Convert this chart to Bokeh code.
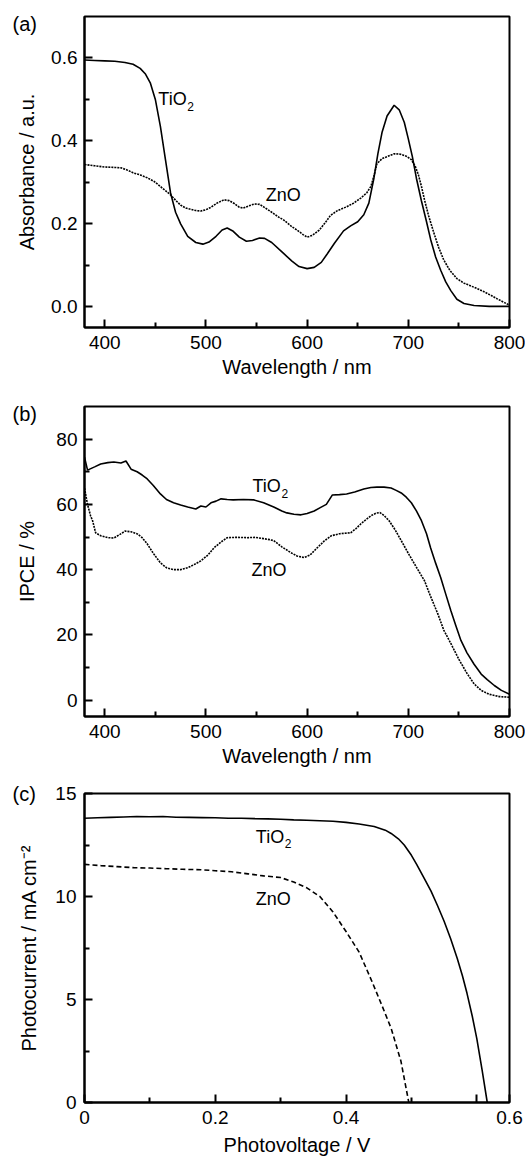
from bokeh.plotting import figure
from bokeh.layouts import column
from bokeh.models import Range1d, FixedTicker, Label, PrintfTickFormatter
from bokeh.embed import file_html
from bokeh.resources import INLINE

FONT = "Liberation Sans"

# ---------------- data: (a) absorbance ----------------
abs_tio2_wl = [380, 390, 400, 410, 420, 428, 435, 440, 445, 450, 455, 460, 465, 470, 475, 482, 490, 497,
               503, 510, 516, 521, 527, 533, 540, 546, 553, 558, 565, 577, 585, 592, 600, 607, 614, 620,
               627, 636, 643, 650, 656, 661, 666, 670, 674, 679, 686, 691, 696, 700, 704, 708, 713, 718,
               722, 727, 732, 737, 742, 748, 755, 765, 780, 800]
abs_tio2 = [0.595, 0.594, 0.593, 0.592, 0.589, 0.585, 0.575, 0.562, 0.540, 0.500, 0.435, 0.355, 0.275,
            0.228, 0.200, 0.170, 0.155, 0.151, 0.156, 0.170, 0.185, 0.190, 0.182, 0.168, 0.158, 0.160,
            0.166, 0.165, 0.155, 0.128, 0.110, 0.097, 0.092, 0.095, 0.107, 0.128, 0.153, 0.183, 0.195,
            0.205, 0.222, 0.250, 0.310, 0.370, 0.420, 0.460, 0.486, 0.475, 0.445, 0.405, 0.362, 0.310,
            0.255, 0.205, 0.163, 0.120, 0.088, 0.060, 0.039, 0.018, 0.008, 0.003, 0.001, 0.001]

abs_zno_wl = [380, 390, 400, 410, 416, 422, 428, 435, 442, 449, 455, 460, 465, 470, 475, 480, 485, 490,
              495, 500, 505, 511, 518, 523, 528, 533, 537, 542, 548, 553, 557, 565, 572, 577, 585, 590,
              596, 600, 605, 612, 618, 623, 630, 639, 646, 653, 659, 663, 666, 669, 674, 679, 686, 692,
              698, 703, 707, 710, 713, 716, 720, 725, 730, 735, 741, 748, 755, 762, 768, 775, 782, 788,
              795, 800]
abs_zno = [0.343, 0.340, 0.337, 0.336, 0.335, 0.330, 0.323, 0.318, 0.311, 0.302, 0.290, 0.280, 0.270,
           0.257, 0.245, 0.238, 0.235, 0.232, 0.231, 0.234, 0.240, 0.250, 0.258, 0.256, 0.249, 0.240,
           0.238, 0.243, 0.248, 0.247, 0.241, 0.228, 0.216, 0.209, 0.193, 0.185, 0.174, 0.168, 0.172,
           0.185, 0.203, 0.220, 0.232, 0.241, 0.250, 0.262, 0.275, 0.290, 0.315, 0.345, 0.357, 0.362,
           0.369, 0.368, 0.363, 0.355, 0.338, 0.318, 0.290, 0.258, 0.220, 0.180, 0.143, 0.113, 0.088,
           0.068, 0.057, 0.050, 0.044, 0.036, 0.027, 0.019, 0.010, 0.004]

# ---------------- data: (b) IPCE ----------------
ipce_tio2_wl = [380, 383, 390, 396, 403, 409, 416, 421, 426, 432, 437, 442, 448, 455, 461, 468, 475, 482,
                490, 495, 500, 505, 510, 515, 521, 527, 537, 547, 557, 567, 575, 580, 587, 594, 600, 607,
                613, 619, 625, 632, 639, 647, 656, 663, 669, 676, 683, 688, 693, 698, 703, 708, 713, 718,
                722, 727, 732, 737, 742, 747, 752, 758, 765, 772, 778, 785, 792, 800]
ipce_tio2 = [74.5, 70.5, 71.5, 72.4, 72.8, 73.0, 72.7, 73.3, 70.8, 70.0, 69.0, 67.8, 65.8, 63.2, 61.5,
             60.5, 59.8, 59.2, 58.6, 59.5, 59.2, 60.5, 61.0, 61.7, 61.5, 61.4, 61.5, 61.4, 60.5, 59.2,
             58.0, 57.4, 57.0, 56.8, 57.2, 58.0, 59.0, 60.0, 62.9, 63.0, 63.2, 63.8, 64.7, 65.2, 65.3,
             65.3, 65.0, 64.3, 63.5, 62.2, 60.5, 58.0, 55.0, 51.0, 46.7, 42.0, 37.6, 32.5, 27.5, 22.8,
             18.3, 14.5, 11.0, 8.0, 6.3, 4.5, 3.0, 1.8]

ipce_zno_wl = [380, 383, 386, 388, 391, 396, 403, 409, 415, 420, 426, 432, 437, 442, 448, 455, 461, 468,
               475, 482, 488, 495, 502, 508, 515, 521, 531, 541, 549, 557, 563, 567, 575, 584, 590, 597,
               603, 610, 617, 624, 632, 643, 648, 653, 658, 663, 668, 672, 676, 681, 687, 693, 700, 706,
               711, 716, 722, 729, 735, 742, 750, 758, 765, 772, 780, 790, 800]
ipce_zno = [65.0, 60.0, 56.5, 55.0, 51.3, 50.4, 49.8, 49.7, 50.8, 51.8, 51.6, 51.0, 49.8, 47.9, 45.0,
            42.1, 40.6, 40.0, 40.0, 40.6, 41.5, 42.7, 44.5, 46.7, 48.5, 49.8, 49.9, 49.8, 49.9, 49.5,
            49.2, 48.9, 47.0, 45.2, 44.2, 43.7, 44.5, 46.7, 48.8, 50.4, 51.0, 51.3, 52.5, 54.0, 55.3,
            56.5, 57.3, 57.5, 56.6, 55.0, 52.2, 48.9, 45.0, 41.8, 39.2, 36.6, 31.8, 26.6, 21.5, 17.4,
            12.5, 8.2, 5.0, 3.0, 1.8, 1.1, 0.9]

# ---------------- data: (c) J-V ----------------
jv_tio2_v = [0.000, 0.020, 0.040, 0.060, 0.080, 0.100, 0.120, 0.140, 0.160, 0.180, 0.200, 0.220, 0.240,
             0.260, 0.280, 0.300, 0.320, 0.340, 0.360, 0.380, 0.400, 0.420, 0.443, 0.460, 0.469, 0.480,
             0.489, 0.500, 0.508, 0.520, 0.530, 0.540, 0.550, 0.560, 0.570, 0.578, 0.585, 0.593, 0.600,
             0.608, 0.616]
jv_tio2_j = [13.80, 13.82, 13.84, 13.86, 13.88, 13.87, 13.88, 13.85, 13.84, 13.83, 13.82, 13.80, 13.80,
             13.78, 13.77, 13.75, 13.72, 13.70, 13.68, 13.65, 13.60, 13.52, 13.40, 13.22, 13.06, 12.80,
             12.50, 12.00, 11.56, 10.85, 10.26, 9.55, 8.80, 7.95, 7.00, 6.15, 5.30, 4.20, 3.10, 1.60, 0.00]

jv_zno_v = [0.000, 0.025, 0.050, 0.075, 0.100, 0.125, 0.150, 0.178, 0.200, 0.225, 0.250, 0.274, 0.300,
            0.320, 0.340, 0.360, 0.380, 0.400, 0.420, 0.440, 0.455, 0.469, 0.484, 0.496]
jv_zno_j = [11.56, 11.50, 11.45, 11.40, 11.38, 11.35, 11.32, 11.30, 11.25, 11.20, 11.10, 11.00, 10.92,
            10.70, 10.42, 10.00, 9.25, 8.30, 7.30, 5.85, 4.70, 3.60, 2.00, 0.00]

# tick definitions
wl_ticks = [400, 500, 600, 700, 800]
wl_minor = [450, 550, 650, 750]
abs_ticks = [0.0, 0.2, 0.4, 0.6]
abs_minor = [0.1, 0.3, 0.5]
ipce_ticks = [0, 20, 40, 60, 80]
ipce_minor = [10, 30, 50, 70]
j_ticks = [0, 5, 10, 15]
j_minor = [2.5, 7.5, 12.5]
v_ticks = [0, 0.2, 0.4, 0.6, 0.65]
v_minor = [0.1, 0.3, 0.5]
v_labels = {0: "0", 0.2: "0.2", 0.4: "0.4", 0.6: "", 0.65: "0.6"}


def make_fig(xr, yr, top, fh, bottom, tag, tag_standoff):
    p = figure(frame_width=425, frame_height=fh,
               min_border_left=84, min_border_right=16,
               min_border_top=top, min_border_bottom=bottom,
               x_range=Range1d(*xr), y_range=Range1d(*yr),
               toolbar_location=None, output_backend="svg",
               background_fill_color="white", border_fill_color="white")
    p.xgrid.visible = False
    p.ygrid.visible = False
    p.outline_line_color = "black"
    p.outline_line_width = 2
    p.outline_line_alpha = 1
    # panel tag "(a)" etc. as a left-aligned title pulled down beside the frame
    p.title.text = tag
    p.title.align = "left"
    p.title.offset = -72
    p.title.standoff = tag_standoff
    p.title.text_font = FONT
    p.title.text_font_size = "20px"
    p.title.text_font_style = "normal"
    p.title.text_color = "black"
    for ax in (p.xaxis[0], p.yaxis[0]):
        ax.axis_line_width = 2
        ax.axis_line_color = "black"
        ax.major_tick_in = 8
        ax.major_tick_out = 0
        ax.minor_tick_in = 5
        ax.minor_tick_out = 0
        ax.major_tick_line_width = 2
        ax.minor_tick_line_width = 2
        ax.major_tick_line_color = "black"
        ax.minor_tick_line_color = "black"
        ax.major_label_text_font = FONT
        ax.major_label_text_font_size = "19px"
        ax.major_label_text_color = "black"
        ax.axis_label_text_font = FONT
        ax.axis_label_text_font_size = "20px"
        ax.axis_label_text_font_style = "normal"
        ax.axis_label_text_color = "black"
    return p


def add_label(p, x, y, text, size="18px", xo=0, yo=0, align="left"):
    p.add_layout(Label(x=x, y=y, text=text, x_offset=xo, y_offset=yo,
                       text_font=FONT, text_font_size=size, text_color="black",
                       text_align=align, text_baseline="middle"))


def add_tio2(p, x, y):
    add_label(p, x, y, "TiO")
    add_label(p, x, y, "2", size="12px", xo=29, yo=-7)


# ---------------- panel (a) ----------------
pa = make_fig((380, 800), (-0.05, 0.7), 16, 311, 60, "(a)", -36)
pa.line(abs_tio2_wl, abs_tio2, line_color="black", line_width=1.6)
pa.line(abs_zno_wl, abs_zno, line_color="black", line_width=1.6, line_dash="2 1")
pa.xaxis[0].ticker = FixedTicker(ticks=wl_ticks, minor_ticks=wl_minor)
pa.yaxis[0].ticker = FixedTicker(ticks=abs_ticks, minor_ticks=abs_minor)
pa.yaxis[0].formatter = PrintfTickFormatter(format="%.1f")
pa.xaxis[0].axis_label = "Wavelength / nm"
pa.yaxis[0].axis_label = "Absorbance / a.u."
pa.xaxis[0].major_label_standoff = 8
pa.xaxis[0].axis_label_standoff = 4
pa.yaxis[0].major_label_standoff = 7
pa.yaxis[0].axis_label_standoff = 10
add_tio2(pa, 453, 0.50)
add_label(pa, 559, 0.27, "ZnO")

# ---------------- panel (b) ----------------
pb = make_fig((380, 800), (-5, 90), 19, 310, 60, "(b)", -36)
pb.line(ipce_tio2_wl, ipce_tio2, line_color="black", line_width=1.6)
pb.line(ipce_zno_wl, ipce_zno, line_color="black", line_width=1.6, line_dash="2 1")
pb.xaxis[0].ticker = FixedTicker(ticks=wl_ticks, minor_ticks=wl_minor)
pb.yaxis[0].ticker = FixedTicker(ticks=ipce_ticks, minor_ticks=ipce_minor)
pb.xaxis[0].axis_label = "Wavelength / nm"
pb.yaxis[0].axis_label = "IPCE / %"
pb.xaxis[0].major_label_standoff = 8
pb.xaxis[0].axis_label_standoff = 4
pb.yaxis[0].major_label_standoff = 7
pb.yaxis[0].axis_label_standoff = 15
add_tio2(pb, 546, 65.6)
add_label(pb, 545, 40, "ZnO")

# ---------------- panel (c) ----------------
pc = make_fig((0, 0.65), (0, 15), 17, 309, 55, "(c)", -22)
pc.line(jv_tio2_v, jv_tio2_j, line_color="black", line_width=1.6)
pc.line(jv_zno_v, jv_zno_j, line_color="black", line_width=1.6, line_dash="5 3")
pc.xaxis[0].ticker = FixedTicker(ticks=v_ticks, minor_ticks=v_minor)
pc.xaxis[0].major_label_overrides = v_labels
pc.yaxis[0].ticker = FixedTicker(ticks=j_ticks, minor_ticks=j_minor)
pc.xaxis[0].axis_label = "Photovoltage / V"
pc.yaxis[0].axis_label = "Photocurrent / mA cm\u207b\u00b2"
pc.xaxis[0].major_label_standoff = 8
pc.xaxis[0].axis_label_standoff = 7
pc.yaxis[0].major_label_standoff = 8
pc.yaxis[0].axis_label_standoff = 12
add_tio2(pc, 0.262, 12.9)
add_label(pc, 0.262, 9.9, "ZnO")

layout = column(pa, pb, pc)
open("out.html", "w").write(file_html(layout, INLINE))
